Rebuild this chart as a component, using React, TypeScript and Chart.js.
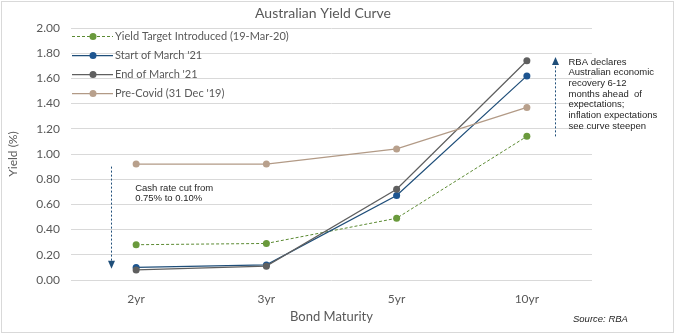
import React, { useEffect, useRef } from "react";
import { Chart, registerables } from "chart.js";

Chart.register(...registerables);

const categories = ["2yr", "3yr", "5yr", "10yr"];
const seriesNames = [
  "Yield Target Introduced (19-Mar-20)",
  "Start of March '21",
  "End of March '21",
  "Pre-Covid (31 Dec '19)",
];
const yieldTarget = [0.28, 0.29, 0.49, 1.14];
const startMarch21 = [0.1, 0.12, 0.67, 1.62];
const endMarch21 = [0.08, 0.11, 0.72, 1.74];
const preCovid = [0.92, 0.92, 1.04, 1.37];
const yTicks = [0, 0.2, 0.4, 0.6, 0.8, 1.0, 1.2, 1.4, 1.6, 1.8, 2.0];

const leftNote = ["Cash rate cut from", "0.75% to 0.10%"];
const rightNote = [
  "RBA declares",
  "Australian economic",
  "recovery 6-12",
  "months ahead  of",
  "expectations;",
  "inflation expectations",
  "see curve steepen",
];

const FONT = "Lato, 'Open Sans', sans-serif";
const ARIAL = "'Liberation Sans', Arial, sans-serif";
const TXT = "#595959";

const lineColors = ["#5b8a32", "#1f4e79", "#5f5f5f", "#b29a86"];
const pointColors = ["#6a9a3c", "#1d5590", "#5f5f5f", "#b8a08c"];

const overlay = {
  id: "overlay",
  afterDraw(chart: any) {
    const { ctx, chartArea, scales } = chart;
    const xs = scales.x;
    const ys = scales.y;
    ctx.save();
    // border
    ctx.strokeStyle = "#d9d9d9";
    ctx.lineWidth = 1;
    ctx.strokeRect(1.5, 1.5, 672, 331);

    // title
    ctx.fillStyle = TXT;
    ctx.font = `14px ${FONT}`;
    ctx.textAlign = "center";
    ctx.textBaseline = "middle";
    ctx.fillText("Australian Yield Curve", 323, 13);

    // legend
    const dsets = chart.data.datasets;
    ctx.textAlign = "left";
    ctx.font = `11px ${FONT}`;
    for (let i = 0; i < dsets.length; i++) {
      const y = chartArea.top + 8 + i * 19;
      const x0 = chartArea.left + 1;
      ctx.strokeStyle = lineColors[i];
      ctx.lineWidth = i === 0 ? 1 : 1.25;
      ctx.setLineDash(i === 0 ? [3, 2] : []);
      ctx.beginPath();
      ctx.moveTo(x0, y + 0.5);
      ctx.lineTo(x0 + 41, y + 0.5);
      ctx.stroke();
      ctx.setLineDash([]);
      ctx.fillStyle = pointColors[i];
      ctx.beginPath();
      ctx.arc(x0 + 21, y + 0.5, 3.5, 0, Math.PI * 2);
      ctx.fill();
      ctx.fillStyle = TXT;
      ctx.fillText(dsets[i].label, x0 + 43, y);
    }

    // arrows
    const drawArrow = (x: number, yFrom: number, yTip: number) => {
      const dir = yTip > yFrom ? 1 : -1;
      ctx.strokeStyle = "#1f4e79";
      ctx.fillStyle = "#1f4e79";
      ctx.lineWidth = 1;
      ctx.setLineDash([2, 2]);
      ctx.beginPath();
      ctx.moveTo(x, yFrom);
      ctx.lineTo(x, yTip - dir * 7);
      ctx.stroke();
      ctx.setLineDash([]);
      ctx.beginPath();
      ctx.moveTo(x, yTip);
      ctx.lineTo(x - 3.5, yTip - dir * 8);
      ctx.lineTo(x + 3.5, yTip - dir * 8);
      ctx.closePath();
      ctx.fill();
    };
    const xl = Math.round(xs.getPixelForValue(0) - 25) + 0.5;
    drawArrow(xl, ys.getPixelForValue(0.9), ys.getPixelForValue(0.09));
    const xr = Math.round(xs.getPixelForValue(3) + 28) + 0.5;
    drawArrow(xr, ys.getPixelForValue(1.14), ys.getPixelForValue(1.77));

    // notes
    ctx.fillStyle = "#262626";
    ctx.font = `9.5px ${ARIAL}`;
    ctx.textAlign = "left";
    leftNote.forEach((t, i) => ctx.fillText(t, xs.getPixelForValue(0) - 1, 188 + i * 10));
    rightNote.forEach((t, i) => ctx.fillText(t, xr + 13, 62 + i * 10.7));

    ctx.font = `italic 9.5px ${ARIAL}`;
    ctx.fillText("Source: RBA", 573, 319);
    ctx.restore();
  },
};

export default function App() {
  const ref = useRef<HTMLCanvasElement>(null);
  useEffect(() => {
    document.body.style.margin = "0";
    const values = [yieldTarget, startMarch21, endMarch21, preCovid];
    const chart = new Chart(ref.current as HTMLCanvasElement, {
      type: "line",
      data: {
        labels: categories,
        datasets: values.map((v, i) => ({
          label: seriesNames[i],
          data: v,
          borderColor: lineColors[i],
          backgroundColor: pointColors[i],
          pointBackgroundColor: pointColors[i],
          pointBorderColor: pointColors[i],
          pointRadius: 3.5,
          pointBorderWidth: 0,
          borderWidth: i === 0 ? 1 : 1.25,
          borderDash: i === 0 ? [3, 2] : [],
          tension: 0,
          fill: false,
          order: 3 - i,
        })),
      },
      options: {
        responsive: false,
        animation: false,
        devicePixelRatio: 1,
        layout: { padding: { top: 28, left: 0, right: 84, bottom: 0 } },
        plugins: { legend: { display: false }, title: { display: false }, tooltip: { enabled: false } },
        scales: {
          x: {
            type: "category",
            offset: true,
            grid: { display: false },
            border: { display: false },
            ticks: { color: TXT, font: { family: FONT, size: 12 }, padding: 4 },
            title: {
              display: true,
              text: "Bond Maturity",
              color: TXT,
              font: { family: FONT, size: 13 },
              padding: { top: 0, bottom: 10 },
            },
            afterFit: (s: any) => {
              s.height = 55;
            },
          },
          y: {
            min: 0,
            max: 2,
            grid: { color: "#d9d9d9", drawTicks: false, lineWidth: 1 },
            border: { display: false },
            afterBuildTicks: (s: any) => {
              s.ticks = yTicks.map((v) => ({ value: v }));
            },
            ticks: {
              color: TXT,
              font: { family: FONT, size: 12 },
              padding: 11,
              callback: (v: any) => Number(v).toFixed(2),
            },
            title: {
              display: true,
              text: "Yield (%)",
              color: TXT,
              font: { family: FONT, size: 12 },
              padding: { top: 6, bottom: 0 },
            },
            afterFit: (s: any) => {
              s.width = 71;
            },
          },
        },
      },
      plugins: [overlay],
    });
    return () => chart.destroy();
  }, []);
  return (
    <div style={{ width: 676, height: 335, background: "#fff" }}>
      <canvas ref={ref} width={676} height={335} />
    </div>
  );
}
